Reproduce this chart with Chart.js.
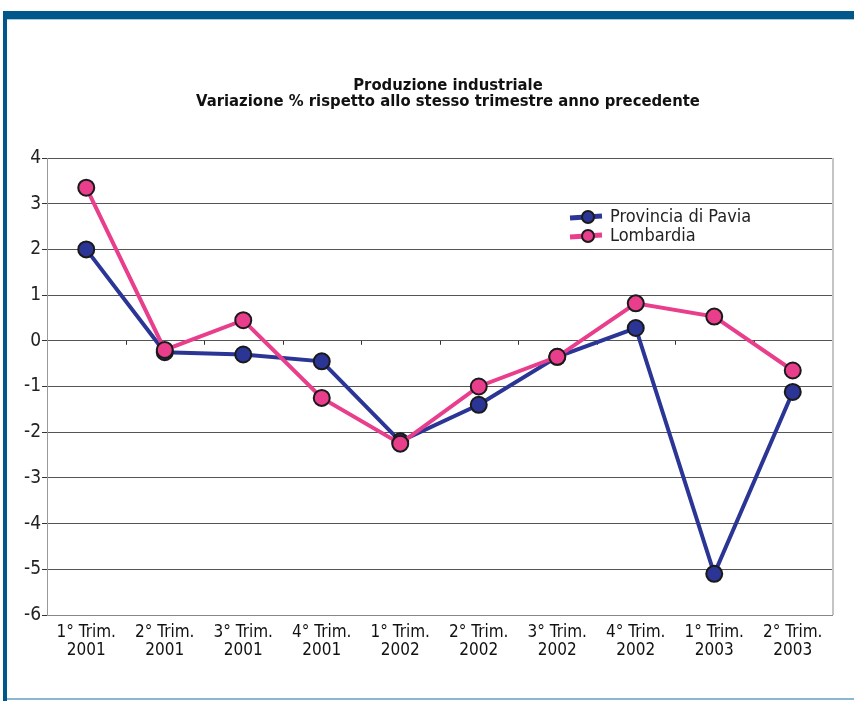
<!DOCTYPE html>
<html><head><meta charset="utf-8">
<script src="https://cdn.jsdelivr.net/npm/chart.js@4"></script>
<style>
html,body{margin:0;padding:0;background:#fff;}
#wrap{position:relative;width:854px;height:701px;overflow:hidden;}
#top{position:absolute;left:3px;top:11px;width:851px;height:8px;background:#00578a;}
#topl{position:absolute;left:7px;top:19px;width:847px;height:1px;background:#a9c9dc;}
#left{position:absolute;left:3px;top:11px;width:4px;height:690px;background:#00578a;}
#bot{position:absolute;left:7px;top:698px;width:847px;height:2px;background:#8ab8d2;}
canvas{position:absolute;left:0;top:0;}
</style></head>
<body><div id="wrap"><div id="top"></div><div id="topl"></div><div id="left"></div><div id="bot"></div>
<canvas id="c" width="854" height="701"></canvas></div>
<script>
const titleLines = ["Produzione industriale", "Variazione % rispetto allo stesso trimestre anno precedente"];
const categories = [["1° Trim.","2001"],["2° Trim.","2001"],["3° Trim.","2001"],["4° Trim.","2001"],["1° Trim.","2002"],["2° Trim.","2002"],["3° Trim.","2002"],["4° Trim.","2002"],["1° Trim.","2003"],["2° Trim.","2003"]];
const pavia = [2.0, -0.25, -0.3, -0.45, -2.2, -1.4, -0.35, 0.28, -5.1, -1.12];
const lombardia = [3.35, -0.2, 0.45, -1.25, -2.25, -1.0, -0.35, 0.82, 0.53, -0.65];
const seriesNames = ["Provincia di Pavia", "Lombardia"];
const yTicks = [4,3,2,1,0,-1,-2,-3,-4,-5,-6];

const FONT = "'Liberation Sans Narrow','DejaVu Sans Condensed',sans-serif";
const BLUE = '#2b3595', PINK = '#e83e8c';

const deco = {
  id:'deco',
  beforeDatasetsDraw(chart){
    const ctx = chart.ctx, x = chart.scales.x, y = chart.scales.y, a = chart.chartArea;
    const y0 = y.getPixelForValue(0);
    ctx.save();
    ctx.strokeStyle = '#333'; ctx.lineWidth = 1;
    for (let i=1;i<categories.length;i++){
      const px = Math.round((x.getPixelForValue(i-1)+x.getPixelForValue(i))/2)+0.5;
      ctx.beginPath(); ctx.moveTo(px,y0); ctx.lineTo(px,y0+4); ctx.stroke();
    }
    ctx.strokeStyle = '#c4c4c4'; ctx.lineWidth = 2;
    ctx.beginPath(); ctx.moveTo(a.right+1, a.top); ctx.lineTo(a.right+1, a.bottom); ctx.stroke();
    ctx.restore();
  },
  afterDraw(chart){
    const ctx = chart.ctx;
    ctx.save();
    ctx.fillStyle = '#111';
    ctx.textAlign = 'center'; ctx.textBaseline = 'middle';
    const tf = "'DejaVu Sans Condensed','Liberation Sans',sans-serif";
    ctx.font = "bold 16px " + tf;
    const w = ctx.measureText(titleLines[1]).width;
    const sz = 16 * 504 / w;
    ctx.font = "bold " + sz.toFixed(2) + "px " + tf;
    ctx.fillText(titleLines[0], 448, 86);
    ctx.fillText(titleLines[1], 448, 102);
    // legend
    const cols = [BLUE, PINK];
    const ys = [217, 236];
    ctx.font = "18px " + FONT;
    ctx.textAlign = 'left';
    for (let i=0;i<2;i++){
      ctx.strokeStyle = cols[i]; ctx.lineWidth = 5;
      ctx.beginPath(); ctx.moveTo(570, ys[i]+1); ctx.lineTo(602, ys[i]-1); ctx.stroke();
      ctx.beginPath(); ctx.arc(588, ys[i], 6, 0, Math.PI*2);
      ctx.fillStyle = cols[i]; ctx.fill();
      ctx.lineWidth = 2; ctx.strokeStyle = '#1a1a1a'; ctx.stroke();
      ctx.fillStyle = '#222';
      ctx.fillText(seriesNames[i], 610, ys[i]);
    }
    ctx.restore();
  }
};

new Chart(document.getElementById('c'), {
  type:'line',
  data:{
    labels: categories,
    datasets:[
      {label:seriesNames[0], data:pavia, borderColor:BLUE, backgroundColor:BLUE, borderWidth:4,
       pointBackgroundColor:BLUE, pointBorderColor:'#1a1a1a', pointBorderWidth:2, pointRadius:8, order:1, tension:0},
      {label:seriesNames[1], data:lombardia, borderColor:PINK, backgroundColor:PINK, borderWidth:4,
       pointBackgroundColor:PINK, pointBorderColor:'#1a1a1a', pointBorderWidth:2, pointRadius:8, order:0, tension:0}
    ]
  },
  options:{
    responsive:false, animation:false,
    layout:{padding:{left:0, right:22, top:158, bottom:0}},
    plugins:{legend:{display:false}, title:{display:false}, tooltip:{enabled:false}},
    scales:{
      x:{
        offset:true,
        grid:{display:false, drawTicks:false},
        border:{display:true, color:'#888', width:1},
        ticks:{color:'#111', font:{family:FONT, size:17, lineHeight:1.08}, padding:8, maxRotation:0, autoSkip:false},
        afterFit(s){ s.height = 86; }
      },
      y:{
        min:-6, max:4,
        afterBuildTicks(s){ s.ticks = yTicks.map(v=>({value:v})); },
        grid:{color:'#555', lineWidth:1, drawTicks:true, tickLength:5, tickColor:'#333'},
        border:{display:true, color:'#999', width:1},
        ticks:{color:'#222', font:{family:FONT, size:19}, padding:1},
        afterFit(s){ s.width = 47; }
      }
    }
  },
  plugins:[deco]
});
</script>
</body></html>
